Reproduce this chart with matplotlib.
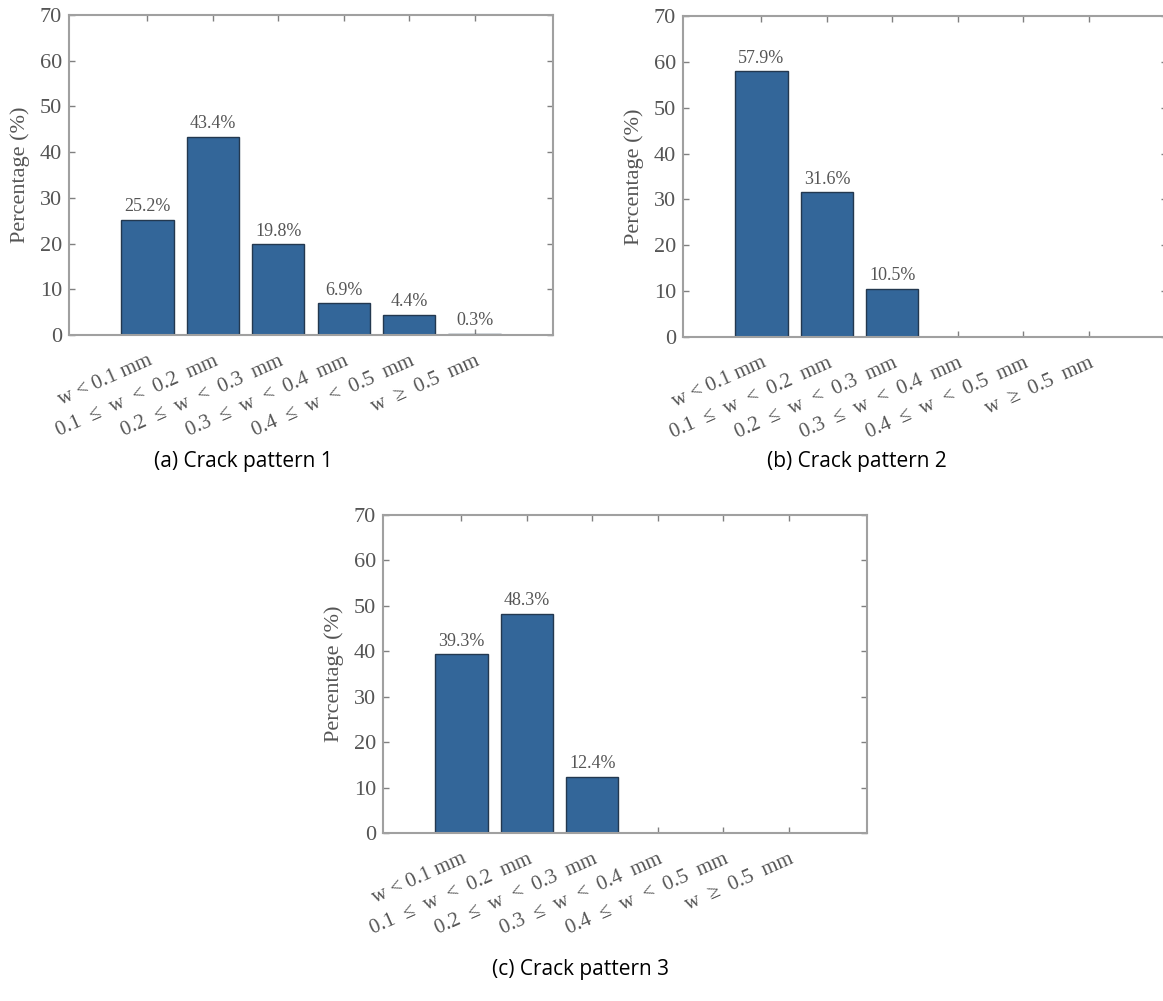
import matplotlib.pyplot as plt
import numpy as np

# crack width classes
categories = ['w < 0.1 mm', '0.1  \u2264  w  <  0.2  mm', '0.2  \u2264  w  <  0.3  mm',
              '0.3  \u2264  w  <  0.4  mm', '0.4  \u2264  w  <  0.5  mm', 'w  \u2265  0.5  mm']

# percentages for each crack pattern
pattern1 = [25.2, 43.4, 19.8, 6.9, 4.4, 0.3]
pattern2 = [57.9, 31.6, 10.5, 0, 0, 0]
pattern3 = [39.3, 48.3, 12.4, 0, 0, 0]

captions = ['(a) Crack pattern 1', '(b) Crack pattern 2', '(c) Crack pattern 3']

serif = ['Liberation Serif', 'DejaVu Serif']
gray_txt = '#555555'
bar_color = '#336699'

W, H = 1163, 1001
fig = plt.figure(figsize=(W / 100, H / 100), dpi=100)

# axes boxes in pixels: left, top, right, bottom
boxes = [(69, 15, 553, 335), (683, 16, 1167, 337), (383, 515, 867, 833)]
datasets = [pattern1, pattern2, pattern3]
cap_pos = [(243, 462), (857, 462), (580, 970)]

x = np.arange(1, len(categories) + 1)

for box, vals, cap, cp in zip(boxes, datasets, captions, cap_pos):
    l, t, r, b = box
    ax = fig.add_axes([l / W, (H - b) / H, (r - l) / W, (b - t) / H])
    ax.bar(x, vals, width=0.8, color=bar_color, edgecolor='#23384f', linewidth=1.0, zorder=2)
    for xi, v in zip(x, vals):
        if v > 0:
            ax.text(xi, v + 1.0, f'{v:.1f}%', ha='center', va='bottom',
                    fontsize=13, color=gray_txt, family=serif)
    ax.set_xlim(-0.2, 7.2)
    ax.set_ylim(0, 70)
    ax.set_yticks(range(0, 71, 10))
    ax.set_xticks(x)
    ax.set_xticklabels(categories, rotation=24, ha='right', rotation_mode='anchor',
                       fontsize=15, color=gray_txt, family=serif)
    for lab in ax.get_yticklabels():
        lab.set_fontsize(16)
        lab.set_color(gray_txt)
        lab.set_family(serif)
    ax.tick_params(direction='in', top=True, right=True, length=4, width=1,
                   color='#808080', pad=5)
    ax.tick_params(axis='x', pad=12)
    for s in ax.spines.values():
        s.set_color('#a0a0a0')
        s.set_linewidth(1.5)
    ax.set_ylabel('Percentage (%)', fontsize=16, color=gray_txt, family=serif, labelpad=7)
    fig.text(cp[0] / W, 1 - cp[1] / H, cap, ha='center', va='center',
             fontsize=15, family=['Open Sans', 'DejaVu Sans'], color='black')

fig.savefig('out.png', dpi=100)
